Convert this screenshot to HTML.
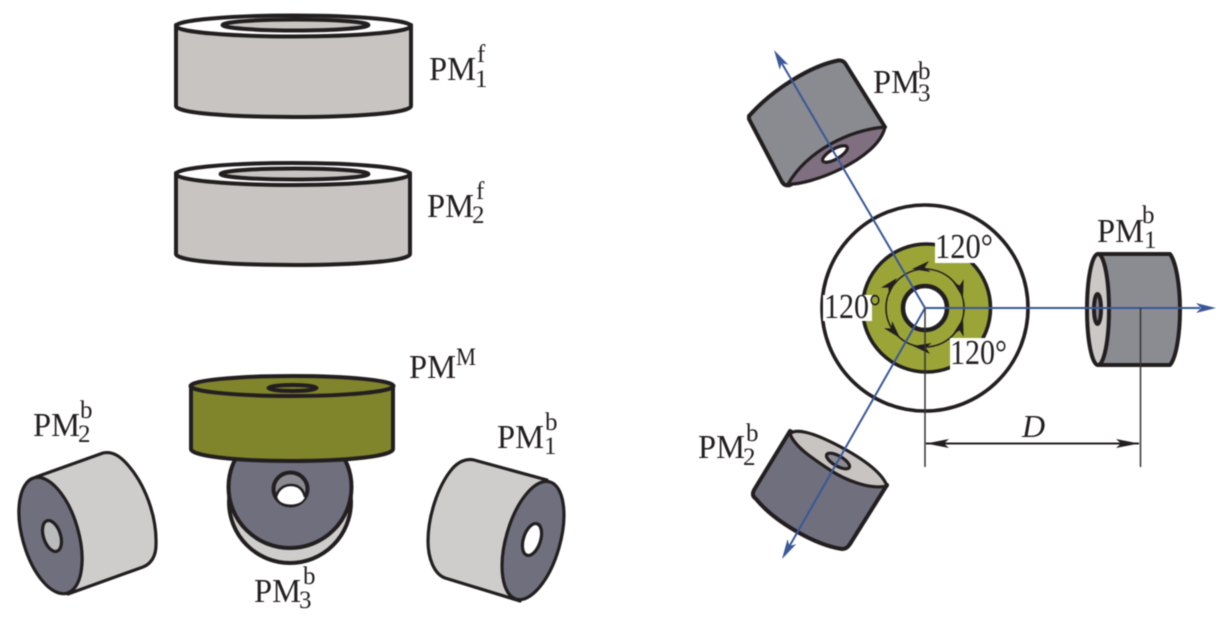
<!DOCTYPE html>
<html>
<head>
<meta charset="utf-8">
<style>
html,body{margin:0;padding:0;background:#fff;width:1228px;height:631px;overflow:hidden}
svg{display:block;filter:blur(.4px)}
text{font-family:"Liberation Serif",serif;fill:#231f20}
.m{font-size:34px}
.s{font-size:25px}
.a{font-size:35px}
.o{stroke:#231f20;stroke-width:4;stroke-linejoin:round}
.t{stroke:#231f20;stroke-width:3.200;stroke-linejoin:round}
.b{stroke:#3a5798;stroke-width:2;fill:none}
</style>
</head>
<body>
<svg width="1228" height="631" viewBox="0 0 1228 631" xmlns="http://www.w3.org/2000/svg">
<defs>
<polygon id="h" points="0,0 -18,-5.500 -13,0 -18,5.500" fill="#231f20"/>
<polygon id="bh" points="0,0 -20,-5 -15,0 -20,5" fill="#3a5798"/>
</defs>

<!-- PM1f -->
<path class="o" fill="#c8c4c1" d="M176,25 V106 C176,113 230,117 293.500,117 C357,117 411,113 411,106 V25 Z"/>
<ellipse class="o" cx="293.500" cy="26" rx="117.500" ry="10.500" fill="#fff"/>
<ellipse class="o" cx="295.500" cy="25" rx="73" ry="5.500" fill="#c8c4c1"/>

<!-- PM2f -->
<path class="o" fill="#c8c4c1" d="M176,173 V254 C176,261 230,265 293,265 C356,265 410,261 410,254 V173 Z"/>
<ellipse class="o" cx="293" cy="174" rx="117" ry="11" fill="#fff"/>
<ellipse class="o" cx="294.500" cy="174" rx="74" ry="5.500" fill="#c8c4c1"/>

<!-- PM3b left panel -->
<ellipse class="o" cx="290" cy="502" rx="61" ry="61" fill="#cfcccc"/>
<ellipse class="o" cx="290" cy="487" rx="61.500" ry="61" fill="#6f6f7d"/>
<ellipse class="o" cx="290.500" cy="489" rx="17" ry="16.500" fill="#8a8a90"/>
<path fill="#fff" d="M277,496 C278,489 284,485 291,485 C298,485 303,489 305,496 C304,502 297,504.500 291,504.500 C284,504.500 278,502 277,496 Z"/>
<path stroke="#231f20" stroke-width="2.500" fill="none" d="M276,497 C278,489 284,485 291,485 C298,485 303,489 305,497"/>

<!-- PMM -->
<path class="o" fill="#80842b" d="M191,386 V449 C191,456 235,461 292,461 C349,461 393,456 393,449 V386 Z"/>
<ellipse class="o" cx="292" cy="386" rx="101.500" ry="10" fill="#80842b"/>
<ellipse class="o" cx="292.500" cy="388" rx="24" ry="3" fill="#80842b"/>

<!-- PM2b left -->
<path class="t" fill="#cfcccc" d="M36,477 L103,453 C112,451 120,456 127,464 C145,484 157,516 156,545 C156,556 151,564 143,567 L68,594 Z"/>
<ellipse class="t" cx="50.500" cy="535.500" rx="28" ry="60" transform="rotate(-16 50.500 535.500)" fill="#6f6f7d"/>
<ellipse class="t" cx="52" cy="536" rx="8.500" ry="16" transform="rotate(-18 52 536)" fill="#b9bbbd"/>

<!-- PM1b left -->
<path class="t" fill="#cfcccc" d="M547,480 L474,460 C466,458 458,462 452,469 C437,487 428,518 428,541 C428,558 434,574 445,578 L520,601 Z"/>
<ellipse class="t" cx="533" cy="540.500" rx="27" ry="61" transform="rotate(16 533 540.500)" fill="#6f6f7d"/>
<ellipse class="t" cx="532" cy="539.500" rx="8.500" ry="16.500" transform="rotate(18 532 539.500)" fill="#fff"/>

<!-- Labels left -->
<text class="m" x="429" y="80" textLength="47" lengthAdjust="spacingAndGlyphs">PM</text><text class="s" x="475" y="87">1</text><text class="s" x="477" y="62">f</text>
<text class="m" x="427" y="217" textLength="47" lengthAdjust="spacingAndGlyphs">PM</text><text class="s" x="472" y="223">2</text><text class="s" x="476" y="199">f</text>
<text class="m" x="409" y="378" textLength="47" lengthAdjust="spacingAndGlyphs">PM</text><text class="s" x="456" y="365" textLength="20" lengthAdjust="spacingAndGlyphs">M</text>
<text class="m" x="497" y="448" textLength="47" lengthAdjust="spacingAndGlyphs">PM</text><text class="s" x="544" y="454">1</text><text class="s" x="545" y="430">b</text>
<text class="m" x="33" y="436" textLength="47" lengthAdjust="spacingAndGlyphs">PM</text><text class="s" x="78" y="442">2</text><text class="s" x="80" y="418">b</text>
<text class="m" x="254" y="602" textLength="47" lengthAdjust="spacingAndGlyphs">PM</text><text class="s" x="299" y="608">3</text><text class="s" x="303" y="584">b</text>

<!-- Centre rings -->
<circle cx="925" cy="308" r="103" fill="#fff" stroke="#231f20" stroke-width="3.600"/>
<circle cx="926.500" cy="308" r="64" fill="#9ba537" stroke="#231f20" stroke-width="3.600"/>
<circle cx="925" cy="308" r="39" fill="none" stroke="#231f20" stroke-width="1.600"/>
<circle cx="925" cy="308" r="22" fill="#fff" stroke="#231f20" stroke-width="4.500"/>
<use href="#h" transform="translate(912,269) rotate(172)"/>
<use href="#h" transform="translate(897,278) rotate(-48)"/>
<use href="#h" transform="translate(963,298) rotate(75)"/>
<use href="#h" transform="translate(963,318) rotate(-75)"/>
<use href="#h" transform="translate(913,346) rotate(188)"/>
<use href="#h" transform="translate(900,338) rotate(48)"/>
<rect x="935" y="236" width="50" height="27" fill="#fff"/>
<rect x="950" y="338" width="45" height="34" fill="#fff"/>
<rect x="823" y="295" width="49" height="26" fill="#fff"/>
<text class="a" x="935" y="258" textLength="58" lengthAdjust="spacingAndGlyphs">120°</text>
<text class="a" x="950" y="364" textLength="57" lengthAdjust="spacingAndGlyphs">120°</text>
<text class="a" x="824" y="318" textLength="57" lengthAdjust="spacingAndGlyphs">120°</text>

<!-- PM3b right -->
<path class="o" fill="#8a8b90" d="M749,116 C772,90 810,66 838,60.500 C841,60 843,61 845,63 L885,127 L790,185 C786,186 784,185 782,182 L749,119 Z"/>
<path class="t" fill="#7f6f80" d="M885,127 C850,130 808,150 788,184 C808,186 878,160 885,127 Z"/>
<ellipse class="t" cx="835" cy="154" rx="14" ry="5" transform="rotate(-30 835 154)" fill="#fff"/>

<!-- PM2b right -->
<path class="o" fill="#6f6f7d" d="M790,431 L754,490 C752,494 753,497 756,499 C775,522 815,545 842,549 C846,549 848,547 850,544 L887,485 Z"/>
<path class="t" fill="#c8c4c1" d="M790,434 C795,428 812,432 837,445 C862,458 882,472 887,486 C870,490 845,480 830,470 C812,458 795,447 790,434 Z"/>
<ellipse class="t" cx="838" cy="461" rx="13" ry="5" transform="rotate(30 838 461)" fill="#8a8a90"/>

<!-- PM1b right -->
<path class="o" fill="#8b8c92" d="M1098,254 H1170 C1176,262 1180,285 1180,310 C1180,335 1176,358 1170,365 H1098 Z"/>
<ellipse class="o" cx="1098" cy="309.500" rx="11" ry="55.500" fill="#cbc8c6"/>
<ellipse class="o" cx="1097.500" cy="309" rx="3.500" ry="15" fill="#8a8b90"/>

<!-- Axes -->
<line class="b" x1="925" y1="308" x2="1200" y2="308"/>
<line class="b" x1="925" y1="308" x2="777" y2="55"/>
<line class="b" x1="925" y1="308" x2="785" y2="554"/>
<use href="#bh" transform="translate(1216,308)"/>
<use href="#bh" transform="translate(774,50) rotate(-120.300)"/>
<use href="#bh" transform="translate(782,559) rotate(119.600)"/>

<!-- Dimension -->
<line x1="925" y1="309" x2="925" y2="467" stroke="#333" stroke-width="1.500"/>
<line x1="1140.500" y1="308" x2="1140.500" y2="467" stroke="#333" stroke-width="1.500"/>
<line x1="926" y1="443.500" x2="1139" y2="443.500" stroke="#231f20" stroke-width="2"/>
<polygon points="926,443.500 949,439 944,443.500 949,448" fill="#231f20"/>
<polygon points="1139,443.500 1116,439 1121,443.500 1116,448" fill="#231f20"/>
<text x="1022" y="437" font-size="32" font-style="italic">D</text>

<!-- Labels right -->
<text class="m" x="873" y="93" textLength="47" lengthAdjust="spacingAndGlyphs">PM</text><text class="s" x="918" y="101">3</text><text class="s" x="918" y="79">b</text>
<text class="m" x="698" y="458" textLength="47" lengthAdjust="spacingAndGlyphs">PM</text><text class="s" x="743" y="465">2</text><text class="s" x="746" y="441">b</text>
<text class="m" x="1097" y="242" textLength="47" lengthAdjust="spacingAndGlyphs">PM</text><text class="s" x="1144" y="248">1</text><text class="s" x="1142" y="223">b</text>
</svg>
</body>
</html>
